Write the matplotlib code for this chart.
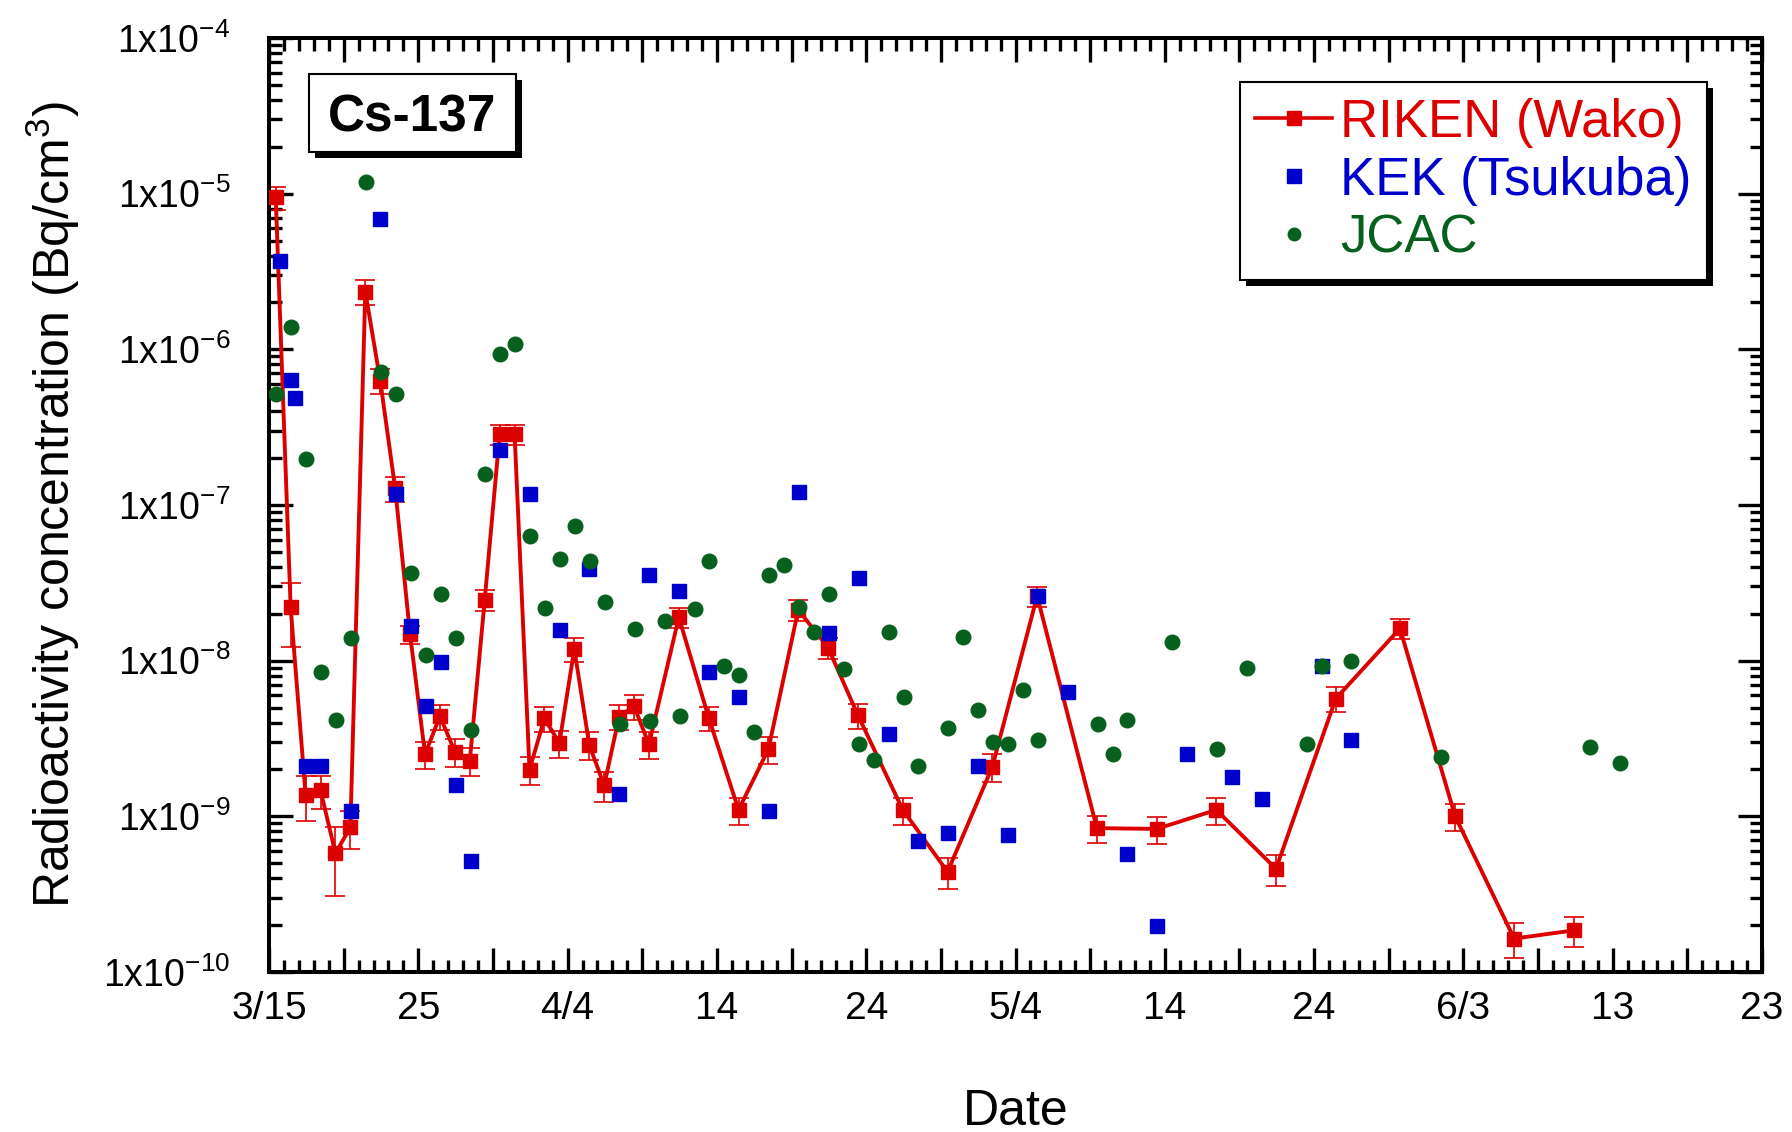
import numpy as np
import matplotlib
matplotlib.use('Agg')
from matplotlib import pyplot as plt
import matplotlib.ticker as ticker
from matplotlib.patches import Rectangle
from matplotlib.lines import Line2D
from matplotlib.transforms import IdentityTransform

plt.rcParams['font.family'] = ['Liberation Sans', 'DejaVu Sans']
plt.rcParams['mathtext.default'] = 'regular'

# days after 3/15
riken_day = [0.45, 1.45, 2.45, 3.45, 4.45, 5.45, 6.45, 7.45, 8.45, 9.45, 10.45, 11.45,
             12.45, 13.45, 14.45, 15.45, 16.45, 17.45, 18.45, 19.45, 20.45, 21.45, 22.45,
             23.45, 24.45, 25.45, 27.45, 29.45, 31.45, 33.45, 35.45, 37.45, 39.45, 42.45,
             45.45, 48.45, 51.45, 55.45, 59.45, 63.45, 67.45, 71.45, 75.75, 79.45, 83.4, 87.4]
riken_val = [9.5e-6, 2.2e-8, 1.38e-9, 1.47e-9, 5.8e-10, 8.5e-10, 2.35e-6, 6.3e-7, 1.28e-7,
             1.48e-8, 2.5e-9, 4.4e-9, 2.6e-9, 2.28e-9, 2.47e-8, 2.85e-7, 2.85e-7, 1.99e-9,
             4.27e-9, 2.95e-9, 1.19e-8, 2.88e-9, 1.58e-9, 4.37e-9, 5.1e-9, 2.9e-9, 1.9e-8,
             4.3e-9, 1.1e-9, 2.7e-9, 2.12e-8, 1.21e-8, 4.45e-9, 1.1e-9, 4.4e-10, 2.08e-9,
             2.6e-8, 8.4e-10, 8.3e-10, 1.1e-9, 4.6e-10, 5.7e-9, 1.61e-8, 1.0e-9, 1.64e-10,
             1.85e-10]
riken_err = [0.17, 0.44, 0.32, 0.24, 0.47, 0.27, 0.18, 0.18, 0.18, 0.13, 0.2, 0.18, 0.2,
             0.2, 0.15, 0.15, 0.15, 0.2, 0.18, 0.2, 0.17, 0.2, 0.22, 0.18, 0.18, 0.2, 0.15,
             0.18, 0.2, 0.2, 0.15, 0.15, 0.18, 0.2, 0.22, 0.2, 0.15, 0.2, 0.2, 0.2, 0.22,
             0.18, 0.15, 0.2, 0.25, 0.22]

kek_day = [0.75, 1.45, 1.75, 2.5, 3.5, 5.5, 7.45, 8.5, 9.5, 10.5, 11.5, 12.5, 13.5, 15.45,
           17.45, 19.5, 21.45, 23.45, 25.45, 27.45, 29.5, 31.5, 33.5, 35.5, 37.5, 39.5,
           41.5, 43.5, 45.5, 47.5, 49.5, 51.5, 53.5, 57.5, 59.5, 61.5, 64.5, 66.5, 70.5, 72.5]
kek_val = [3.7e-6, 6.4e-7, 4.9e-7, 2.1e-9, 2.1e-9, 1.09e-9, 6.9e-6, 1.18e-7, 1.66e-8,
           5.15e-9, 9.8e-9, 1.58e-9, 5.2e-10, 2.24e-7, 1.18e-7, 1.58e-8, 3.9e-8, 1.39e-9,
           3.56e-8, 2.8e-8, 8.4e-9, 5.8e-9, 1.09e-9, 1.22e-7, 1.5e-8, 3.4e-8, 3.4e-9,
           6.9e-10, 7.8e-10, 2.1e-9, 7.6e-10, 2.6e-8, 6.3e-9, 5.75e-10, 1.98e-10, 2.5e-9,
           1.79e-9, 1.29e-9, 9.3e-9, 3.1e-9]

jcac_day = [0.5, 1.5, 2.5, 3.5, 4.5, 5.5, 6.5, 7.5, 8.5, 9.5, 10.5, 11.5, 12.5, 13.5, 14.5,
            15.5, 16.5, 17.5, 18.5, 19.5, 20.5, 21.5, 22.5, 23.5, 24.5, 25.5, 26.5, 27.5,
            28.5, 29.5, 30.5, 31.5, 32.5, 33.5, 34.5, 35.5, 36.5, 37.5, 38.5, 39.5, 40.5,
            41.5, 42.5, 43.5, 45.5, 46.5, 47.5, 48.5, 49.5, 50.5, 51.5, 55.5, 56.5, 57.5,
            60.5, 63.5, 65.5, 69.5, 70.5, 72.5, 78.5, 88.5, 90.5]
jcac_val = [5.2e-7, 1.39e-6, 1.98e-7, 8.4e-9, 4.16e-9, 1.4e-8, 1.19e-5, 7.2e-7, 5.2e-7,
            3.67e-8, 1.09e-8, 2.69e-8, 1.4e-8, 3.6e-9, 1.58e-7, 9.4e-7, 1.08e-6, 6.3e-8,
            2.18e-8, 4.5e-8, 7.3e-8, 4.4e-8, 2.38e-8, 3.9e-9, 1.59e-8, 4.1e-9, 1.79e-8,
            4.4e-9, 2.14e-8, 4.4e-8, 9.3e-9, 8.1e-9, 3.5e-9, 3.56e-8, 4.1e-8, 2.2e-8,
            1.52e-8, 2.7e-8, 8.9e-9, 2.9e-9, 2.3e-9, 1.52e-8, 5.8e-9, 2.1e-9, 3.7e-9,
            1.42e-8, 4.8e-9, 3.0e-9, 2.9e-9, 6.5e-9, 3.1e-9, 3.9e-9, 2.5e-9, 4.15e-9,
            1.32e-8, 2.7e-9, 9.0e-9, 2.9e-9, 9.2e-9, 1.0e-8, 2.4e-9, 2.8e-9, 2.2e-9]

date_labels = ['3/15', '25', '4/4', '14', '24', '5/4', '14', '24', '6/3', '13', '23']
series_names = ['RIKEN (Wako)', 'KEK (Tsukuba)', 'JCAC']

red = '#dd0000'
blue = '#0000cc'
green = '#08601f'

fig = plt.figure(figsize=(17.92, 11.32), dpi=100)
W, H = 1792, 1132
ax = fig.add_axes([269 / W, 1 - 972 / H, (1762 - 269) / W, (972 - 38) / H])

rv = np.array(riken_val)
re = np.array(riken_err) * rv
ax.errorbar(riken_day, rv, yerr=[re, re], fmt='none', ecolor=red, elinewidth=1.2,
            capsize=7, capthick=1.2, zorder=2)
ax.plot(riken_day, rv, '-s', color=red, lw=2.8, ms=10.5, mew=1, zorder=3)
ax.plot(kek_day, kek_val, 's', color=blue, ms=10.5, mew=1, ls='none', zorder=4)
ax.plot(jcac_day, jcac_val, 'o', color=green, ms=10.5, mew=1, ls='none', zorder=5)

ax.set_yscale('log')
ax.set_ylim(1e-10, 1e-4)
ax.set_xlim(0, 100)

ax.xaxis.set_major_locator(ticker.FixedLocator(np.arange(0, 101, 5)))
ax.xaxis.set_minor_locator(ticker.FixedLocator(np.arange(0, 101, 1)))
xt_labels = []
for i in range(21):
    xt_labels.append(date_labels[i // 2] if i % 2 == 0 else '')
ax.xaxis.set_major_formatter(ticker.FixedFormatter(xt_labels))

ax.yaxis.set_major_locator(ticker.LogLocator(base=10, numticks=10))
ax.yaxis.set_minor_locator(ticker.LogLocator(base=10, subs=np.arange(2, 10), numticks=20))
ax.yaxis.set_minor_formatter(ticker.NullFormatter())
ax.yaxis.set_major_formatter(ticker.FuncFormatter(
    lambda v, p: r'$1x10^{%d}$' % int(round(np.log10(v)))))

for s in ax.spines.values():
    s.set_linewidth(2.9)
ax.tick_params(which='both', direction='in', top=True, right=True, width=2.4)
ax.tick_params(axis='x', which='major', length=17, labelsize=28, pad=14)
ax.tick_params(axis='x', which='minor', length=9)
ax.tick_params(axis='y', which='major', length=17, labelsize=27, pad=28)
ax.tick_params(axis='y', which='minor', length=9)

ax.set_xlabel('Date', fontsize=36, labelpad=44)
ax.set_ylabel('Radioactivity concentration (Bq/cm$^3$)', fontsize=36, labelpad=15)

# Cs-137 label box with drop shadow
aw, ah = 1493.0, 934.0
bx0, by0, bw, bh = (309 - 269) / aw, (972 - 152) / ah, 207 / aw, 78 / ah
ax.add_patch(Rectangle((bx0 + 6 / aw, by0 - 6 / ah), bw, bh, transform=ax.transAxes,
                       fc='black', ec='none', zorder=8, clip_on=False))
ax.add_patch(Rectangle((bx0, by0), bw, bh, transform=ax.transAxes, fc='white',
                       ec='black', lw=1.5, zorder=9, clip_on=False))
ax.text(bx0 + bw / 2, (972 - 131.5) / ah, 'Cs-137', transform=ax.transAxes,
        fontsize=37, fontweight='bold', ha='center', va='baseline', zorder=10)

handles = [Line2D([], [], color=red, lw=2.6, marker='s', ms=9.5),
           Line2D([], [], color=blue, ls='none', marker='s', ms=9.5),
           Line2D([], [], color=green, ls='none', marker='o', ms=9)]
leg = ax.legend(handles, series_names, loc='upper right',
                bbox_to_anchor=((1707 - 269) / aw, (972 - 82) / ah), borderaxespad=0,
                fontsize=38, labelcolor=[red, blue, green], fancybox=False,
                edgecolor='black', framealpha=1, handlelength=1.45, handletextpad=0.15,
                labelspacing=0.15, borderpad=0.3, markerscale=1)
leg.get_frame().set_linewidth(1.5)
leg.set_zorder(9)

fig.canvas.draw()
bb = leg.get_frame().get_window_extent()
ax.add_patch(Rectangle((bb.x0 + 6, bb.y0 - 6), bb.width, bb.height,
                       transform=IdentityTransform(), fc='black', ec='none',
                       zorder=8, clip_on=False))

fig.savefig('out.png', dpi=100)
